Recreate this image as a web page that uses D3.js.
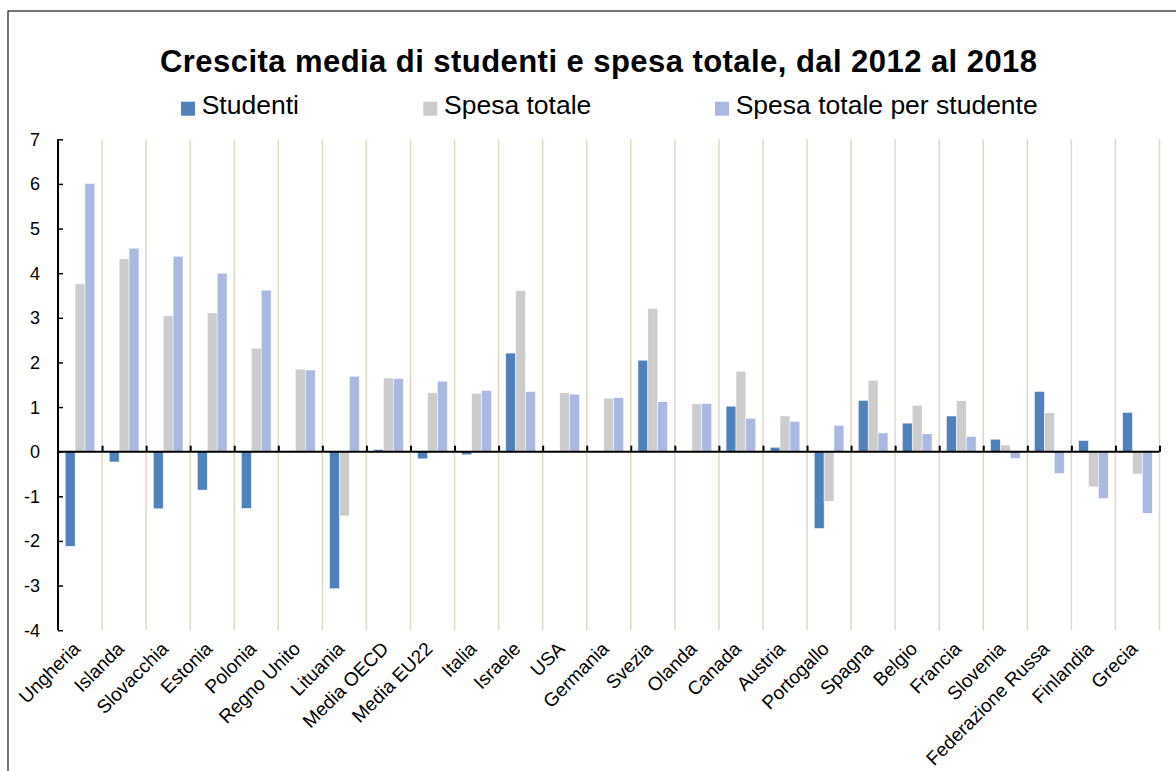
<!DOCTYPE html>
<html>
<head>
<meta charset="utf-8">
<script src="https://cdn.jsdelivr.net/npm/d3@7"></script>
<style>
  html, body { margin: 0; padding: 0; background: #fff; }
  svg { display: block; font-family: "Liberation Sans", Arial, sans-serif; }
</style>
</head>
<body>
<svg id="chart" width="1176" height="771"></svg>
<script>
const categories = ["Ungheria","Islanda","Slovacchia","Estonia","Polonia","Regno Unito","Lituania","Media OECD","Media EU22","Italia","Israele","USA","Germania","Svezia","Olanda","Canada","Austria","Portogallo","Spagna","Belgio","Francia","Slovenia","Federazione Russa","Finlandia","Grecia"];
const seriesNames = ["Studenti","Spesa totale","Spesa totale per studente"];
const studenti = [-2.12,-0.23,-1.28,-0.86,-1.27,0.02,-3.07,0.05,-0.16,-0.07,2.21,0.02,0.01,2.05,0.01,1.02,0.10,-1.72,1.15,0.64,0.80,0.28,1.35,0.25,0.88];
const spesaTotale = [3.76,4.32,3.05,3.11,2.32,1.85,-1.44,1.65,1.32,1.31,3.61,1.32,1.20,3.21,1.07,1.80,0.80,-1.11,1.60,1.04,1.14,0.15,0.87,-0.79,-0.50];
const spesaPerStudente = [6.01,4.56,4.38,4.00,3.62,1.83,1.69,1.64,1.58,1.37,1.35,1.29,1.21,1.12,1.08,0.75,0.68,0.59,0.42,0.40,0.34,-0.15,-0.49,-1.05,-1.38];
const yTicks = [-4,-3,-2,-1,0,1,2,3,4,5,6,7];
const colors = ["#4f81bd","#cccccc","#a9b9e2"];
const titleText = "Crescita media di studenti e spesa totale, dal 2012 al 2018";

(function () {
const svg = d3.select("#chart");
const seriesValues = [studenti, spesaTotale, spesaPerStudente];

// outer border
svg.append("rect").attr("x", 8).attr("y", 11).attr("width", 1200).attr("height", 800)
  .attr("fill", "none").attr("stroke", "#1a1a1a").attr("stroke-width", 1.2);

const pLeft = 58, pRight = 1159.5, pTop = 139.3, pBottom = 630.2;
const x0 = d3.scaleBand().domain(categories).range([pLeft, pRight]).paddingInner(0).paddingOuter(0);
const bw = x0.bandwidth();
const x1 = d3.scaleBand().domain(seriesNames).range([bw * 0.163, bw * 0.837]).padding(0);
const y = d3.scaleLinear().domain([-4, 7]).range([pBottom, pTop]);

// vertical gridlines at category boundaries
const boundaries = categories.map(c => x0(c)).concat([pRight]).slice(1);
svg.append("g").selectAll("line").data(boundaries).join("line")
  .attr("x1", d => d).attr("x2", d => d)
  .attr("y1", pTop).attr("y2", pBottom)
  .attr("stroke", "#ddd9c3").attr("stroke-width", 1.5);

// bars
const gCat = svg.append("g").selectAll("g").data(categories).join("g")
  .attr("transform", c => `translate(${x0(c)},0)`);
gCat.selectAll("rect").data((c, i) => seriesNames.map((s, k) => ({s, k, v: seriesValues[k][i]})))
  .join("rect")
  .attr("x", d => x1(d.s))
  .attr("width", x1.bandwidth())
  .attr("y", d => y(Math.max(0, d.v)))
  .attr("height", d => Math.abs(y(d.v) - y(0)))
  .attr("fill", d => colors[d.k])
  .attr("stroke", "#ffffff").attr("stroke-width", 0.5);

// y axis
const yAxis = d3.axisRight(y).tickValues(yTicks).tickSize(5).tickFormat("");
const ya = svg.append("g").attr("transform", `translate(${pLeft},0)`).call(yAxis);
ya.select(".domain").attr("stroke", "#000").attr("stroke-width", 2).attr("d", `M0,${pTop}V${pBottom}`);
ya.selectAll(".tick line").attr("stroke", "#000").attr("stroke-width", 1.5);
svg.append("g").selectAll("text").data(yTicks).join("text")
  .attr("x", 40).attr("y", d => y(d)).attr("dy", "0.36em")
  .attr("text-anchor", "end").attr("font-size", 18).attr("fill", "#000")
  .text(d => d);

// zero line with ticks
const xAxis = d3.axisTop(d3.scaleLinear().domain([pLeft, pRight]).range([pLeft, pRight]))
  .tickValues(boundaries).tickSize(6).tickFormat("");
const xa = svg.append("g").attr("transform", `translate(0,${y(0)})`).call(xAxis);
xa.select(".domain").attr("stroke", "#000").attr("stroke-width", 2).attr("d", `M${pLeft},0H${pRight}`);
xa.selectAll(".tick line").attr("stroke", "#000").attr("stroke-width", 2);

// category labels
svg.append("g").selectAll("text").data(categories).join("text")
  .attr("transform", c => `translate(${x0(c) + bw / 2 - 3.5},${pBottom + 15}) rotate(-45)`)
  .attr("text-anchor", "end").attr("dy", "0.35em")
  .attr("font-size", 19).attr("fill", "#000")
  .text(c => c);

// title
svg.append("text").attr("x", 598.5).attr("y", 72).attr("text-anchor", "middle")
  .attr("font-size", 31).attr("font-weight", "bold").attr("fill", "#000")
  .attr("textLength", 877).attr("lengthAdjust", "spacing")
  .text(titleText);

// legend
const legendX = [181, 423.3, 715];
const lg = svg.append("g").selectAll("g").data(seriesNames).join("g")
  .attr("transform", (d, i) => `translate(${legendX[i]},0)`);
lg.append("rect").attr("x", 0).attr("y", 101.7).attr("width", 14).attr("height", 14)
  .attr("fill", (d, i) => colors[i]);
lg.append("text").attr("x", 20.7).attr("y", 113.5).attr("font-size", 26.5).attr("fill", "#000")
  .text(d => d);
})();
</script>
</body>
</html>
